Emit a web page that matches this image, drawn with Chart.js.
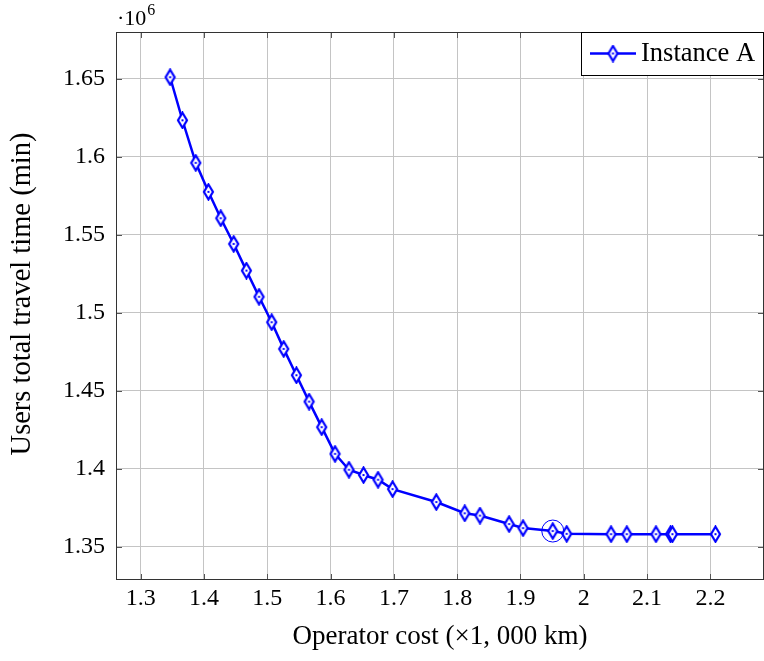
<!DOCTYPE html>
<html>
<head>
<meta charset="utf-8">
<script src="https://cdn.jsdelivr.net/npm/chart.js@4/dist/chart.umd.min.js"></script>
<style>
html,body{margin:0;padding:0;background:#fff;}
canvas{display:block;}
</style>
</head>
<body>
<canvas id="c" width="764" height="661"></canvas>
<script>
// ---- data ----
const seriesLabel = 'Instance A';
const operatorCost = [1.3465, 1.366, 1.387, 1.407, 1.4265, 1.447, 1.467, 1.487, 1.507, 1.526,
  1.546, 1.566, 1.586, 1.607, 1.629, 1.652, 1.675, 1.698, 1.767, 1.812,
  1.836, 1.882, 1.904, 1.951, 1.973, 2.043, 2.068, 2.114, 2.137, 2.140, 2.208];
const travelTime = [1.6511, 1.6235, 1.5962, 1.5776, 1.5607, 1.5442, 1.5271, 1.5103, 1.494, 1.4769,
  1.460, 1.4431, 1.4267, 1.4096, 1.3994, 1.396, 1.393, 1.387, 1.3787, 1.3715,
  1.3700, 1.3646, 1.362, 1.3601, 1.3583, 1.3581, 1.3581, 1.3581, 1.3581, 1.3581, 1.3581];
const highlightIndex = 23;
const xTickValues = [1.3, 1.4, 1.5, 1.6, 1.7, 1.8, 1.9, 2.0, 2.1, 2.2];
const xTickLabels = ['1.3', '1.4', '1.5', '1.6', '1.7', '1.8', '1.9', '2', '2.1', '2.2'];
const yTickValues = [1.35, 1.4, 1.45, 1.5, 1.55, 1.6, 1.65];
const yTickLabels = ['1.35', '1.4', '1.45', '1.5', '1.55', '1.6', '1.65'];
const xTitle = 'Operator cost (\u00d71, 000 km)';
const yTitle = 'Users total travel time (min)';
const yExponentBase = '\u00b710';
const yExponent = '6';

const FONT = "'Liberation Serif', 'Times New Roman', serif";
const BLUE = '#0000ff';

// diamond marker
function makeDiamond() {
  const c = document.createElement('canvas');
  c.width = 13; c.height = 18;
  const g = c.getContext('2d');
  g.beginPath();
  g.moveTo(6.5, 1.5); g.lineTo(11, 9); g.lineTo(6.5, 16.5); g.lineTo(2, 9); g.closePath();
  g.fillStyle = '#fff'; g.fill();
  g.lineWidth = 2.2; g.strokeStyle = BLUE; g.stroke();
  g.fillStyle = BLUE; g.fillRect(5.5, 8, 2, 2);
  return c;
}
const diamond = makeDiamond();

const decorPlugin = {
  id: 'decor',
  afterDraw(chart) {
    const ctx = chart.ctx;
    const a = chart.chartArea;
    const xs = chart.scales.x, ys = chart.scales.y;
    ctx.save();
    // inward tick marks
    ctx.strokeStyle = '#555';
    ctx.lineWidth = 1;
    ctx.beginPath();
    xTickValues.forEach(v => {
      const px = Math.round(xs.getPixelForValue(v)) + 0.5;
      ctx.moveTo(px, a.bottom); ctx.lineTo(px, a.bottom - 6);
      ctx.moveTo(px, a.top); ctx.lineTo(px, a.top + 6);
    });
    yTickValues.forEach(v => {
      const py = Math.round(ys.getPixelForValue(v)) + 0.5;
      ctx.moveTo(a.left, py); ctx.lineTo(a.left + 6, py);
      ctx.moveTo(a.right, py); ctx.lineTo(a.right - 6, py);
    });
    ctx.stroke();
    // frame
    ctx.strokeStyle = '#333';
    ctx.strokeRect(Math.round(a.left) + 0.5, Math.round(a.top) + 0.5,
      Math.round(a.right - a.left) - 1, Math.round(a.bottom - a.top) - 1);

    // highlight circle
    const hx = xs.getPixelForValue(operatorCost[highlightIndex]);
    const hy = ys.getPixelForValue(travelTime[highlightIndex]);
    ctx.beginPath();
    ctx.arc(hx, hy, 11, 0, Math.PI * 2);
    ctx.strokeStyle = BLUE; ctx.lineWidth = 1;
    ctx.stroke();

    // exponent label
    ctx.fillStyle = '#000';
    ctx.textBaseline = 'alphabetic';
    ctx.textAlign = 'left';
    ctx.font = '22px ' + FONT;
    ctx.fillText(yExponentBase, a.left + 1, 25);
    const w = ctx.measureText(yExponentBase).width;
    ctx.font = '16px ' + FONT;
    ctx.fillText(yExponent, a.left + 1 + w + 1, 15);

    // y axis title (drawn manually to match vertical placement)
    ctx.save();
    ctx.translate(23, 294);
    ctx.rotate(-Math.PI / 2);
    ctx.font = '28.5px ' + FONT;
    ctx.textAlign = 'center';
    ctx.textBaseline = 'middle';
    ctx.fillText(yTitle, 0, 0);
    ctx.restore();

    // legend box
    const ds = chart.data.datasets[0];
    const lx = 581, ly = 32, lw = a.right - 581 - 1, lh = 43;
    ctx.fillStyle = '#fff';
    ctx.fillRect(lx, ly, lw, lh);
    ctx.strokeStyle = '#000'; ctx.lineWidth = 1;
    ctx.strokeRect(lx + 0.5, ly + 0.5, lw, lh);
    ctx.beginPath();
    ctx.moveTo(590, 53.5); ctx.lineTo(636, 53.5);
    ctx.strokeStyle = ds.borderColor; ctx.lineWidth = ds.borderWidth;
    ctx.stroke();
    ctx.drawImage(diamond, 613 - diamond.width / 2, 53.5 - diamond.height / 2);
    ctx.fillStyle = '#000';
    ctx.font = '26.5px ' + FONT;
    ctx.textAlign = 'left';
    ctx.textBaseline = 'middle';
    ctx.fillText(ds.label, 641, 54);
    ctx.restore();
  }
};

new Chart(document.getElementById('c'), {
  type: 'line',
  data: {
    datasets: [{
      label: seriesLabel,
      data: operatorCost.map((x, i) => ({x: x, y: travelTime[i]})),
      borderColor: BLUE,
      backgroundColor: '#fff',
      borderWidth: 2.5,
      pointStyle: diamond,
      pointRadius: 6,
      tension: 0,
      fill: false
    }]
  },
  options: {
    responsive: false,
    animation: false,
    devicePixelRatio: 1,
    layout: {autoPadding: false, padding: {top: 32, left: 0, right: 0, bottom: 0}},
    plugins: {legend: {display: false}, tooltip: {enabled: false}},
    scales: {
      x: {
        type: 'linear',
        min: 1.261, max: 2.2847,
        afterBuildTicks: s => { s.ticks = xTickValues.map(v => ({value: v})); },
        afterFit: s => { s.height = 81; },
        ticks: {
          callback: (v) => { const i = xTickValues.findIndex(t => Math.abs(t - v) < 1e-9); return i >= 0 ? xTickLabels[i] : ''; },
          font: {family: FONT, size: 24}, color: '#000', padding: 4, maxRotation: 0, autoSkip: false
        },
        grid: {color: '#c4c4c4', lineWidth: 1, drawTicks: false},
        border: {display: false},
        title: {display: true, text: xTitle, font: {family: FONT, size: 27}, color: '#000', padding: {top: 0, bottom: 8}}
      },
      y: {
        type: 'linear',
        min: 1.3287, max: 1.6801,
        afterBuildTicks: s => { s.ticks = yTickValues.map(v => ({value: v})); },
        afterFit: s => { s.width = 116; },
        ticks: {
          callback: (v) => { const i = yTickValues.findIndex(t => Math.abs(t - v) < 1e-9); return i >= 0 ? yTickLabels[i] : ''; },
          font: {family: FONT, size: 24}, color: '#000', padding: 11, autoSkip: false
        },
        grid: {color: '#c4c4c4', lineWidth: 1, drawTicks: false},
        border: {display: false},
        title: {display: false, text: yTitle}
      }
    }
  },
  plugins: [decorPlugin]
});
</script>
</body>
</html>
